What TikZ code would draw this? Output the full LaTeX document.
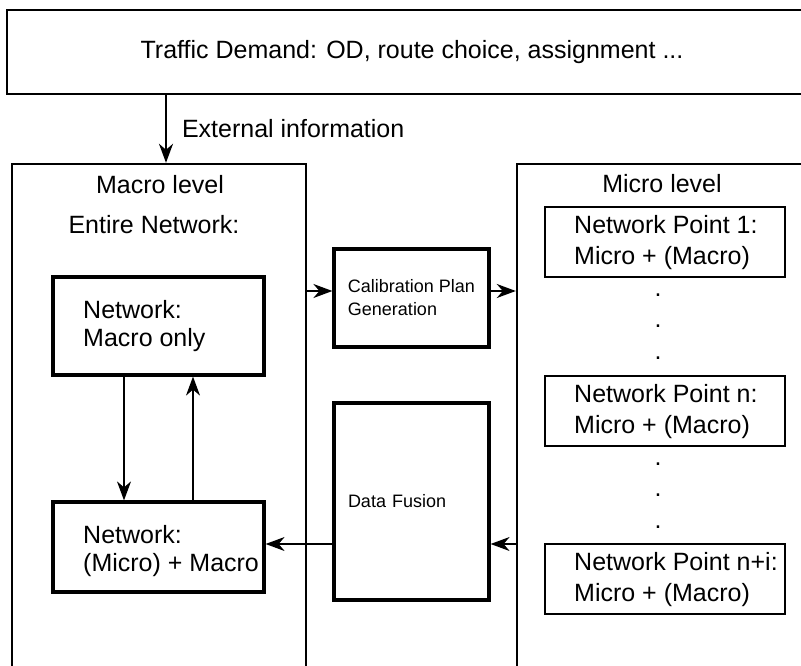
\documentclass[tikz,border=0pt]{standalone}
\usepackage{fontspec}
\setmainfont{Liberation Sans}
\usetikzlibrary{arrows.meta}

\begin{document}
\begin{tikzpicture}[x=1pt,y=-1pt,
  every node/.style={font=\fontsize{25}{31}\selectfont},
  levelbox/.style={draw,line width=2.4pt,inner sep=0pt},
  stagebox/.style={draw,line width=3.2pt,inner sep=0pt},
  pointbox/.style={draw,line width=1.5pt,inner sep=0pt,minimum width=240pt,minimum height=70pt},
  boxtext/.style={anchor=west,align=left,inner sep=0pt},
  smalltext/.style={font=\fontsize{18}{23}\selectfont},
  flow/.style={line width=1.4pt,-{Stealth[length=19pt,width=14pt,inset=6pt]}}]
\clip (0,0) rectangle (801,666);
% Demand on top, the two levels below it.
\node[levelbox,minimum width=810pt,minimum height=84pt] (demand) at (412,52) {Traffic Demand: OD, route choice, assignment ...};
\node[levelbox,minimum width=294pt,minimum height=556pt] (macro) at (159,442) {};
\node[levelbox,minimum width=290pt,minimum height=556pt] (micro) at (662,442) {};
\node (macrotitle) at (160,185) {Macro level};
\node (entire) at (154,225) {Entire Network:};
\node (microtitle) at (662,184) {Micro level};
% Macro side.
\node[stagebox,minimum width=211pt,minimum height=98pt] (macroonly) at (158.5,326) {};
\node[boxtext,font=\fontsize{25}{28}\selectfont] (macroonlytext) at (83,326) {Network:\\Macro only};
\node[stagebox,minimum width=211pt,minimum height=90pt] (mixed) at (158.5,547) {};
\node[boxtext,font=\fontsize{25}{28}\selectfont] (mixedtext) at (83,551) {Network:\\(Micro) + Macro};
% Middle steps.
\node[stagebox,smalltext,minimum width=155pt,minimum height=98pt,align=left] (calib) at (411.5,298) {Calibration Plan\\Generation};
\node[stagebox,smalltext,minimum width=155pt,minimum height=197pt,text width=127pt,align=left] (fusion) at (411.5,501.5) {Data Fusion};
% Micro side.
\node[pointbox] (point1) at (665,242) {};
\node[boxtext] (point1text) at (574,243) {Network Point 1:\\Micro + (Macro)};
\node[pointbox] (pointn) at (665,411) {};
\node[boxtext] (pointntext) at (574,412) {Network Point n:\\Micro + (Macro)};
\node[pointbox] (pointni) at (665,579) {};
\node[boxtext] (pointnitext) at (574,580) {Network Point n+i:\\Micro + (Macro)};
\foreach \y [count=\i] in {295,326,358,464,495,527}
  \node[inner sep=0pt] (dot\i) at (658,\y) {.};
% Connectors.
\coordinate (extx) at (166,0);
\coordinate (planrow) at (0,291);
\coordinate (fusionrow) at (0,544);
\coordinate (downx) at (124,0);
\coordinate (upx) at (193,0);
\draw[flow,line width=2pt] (extx |- demand.south) -- (extx |- macro.north)
  node[midway,anchor=west,xshift=15pt,inner sep=0pt] (extinfo) {External information};
\draw[flow,line width=1.8pt] (planrow -| macro.east) -- (planrow -| calib.west);
\draw[flow,line width=1.8pt] (planrow -| calib.east) -- (planrow -| micro.west);
\draw[flow] (fusionrow -| micro.west) -- (fusionrow -| fusion.east);
\draw[flow] (fusionrow -| fusion.west) -- (fusionrow -| mixed.east);
\draw[flow] (downx |- macroonly.south) -- (downx |- mixed.north);
\draw[flow] (upx |- mixed.north) -- (upx |- macroonly.south);
\end{tikzpicture}
\end{document}
